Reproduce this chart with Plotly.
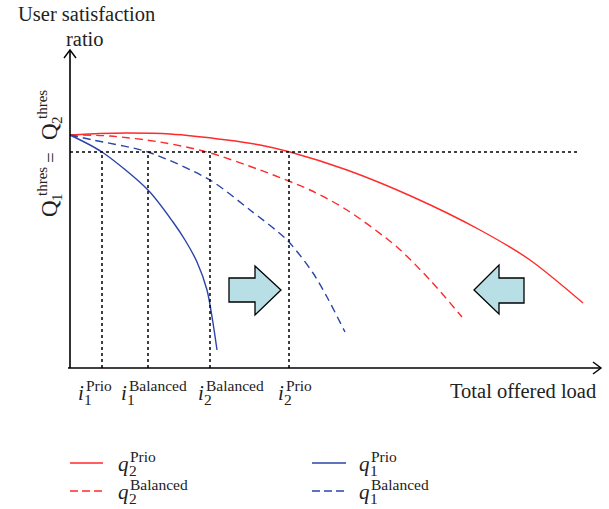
import plotly.graph_objects as go

# ---- data (arbitrary load / ratio units; origin at the axes crossing) ----
red_prio_x = [0, 30, 57, 100, 157, 190, 220, 277, 343, 410, 460, 513]
red_prio_y = [233, 234.5, 235, 234, 228, 223, 216, 198, 171, 138, 108, 65]

red_bal_x = [0, 40, 90, 137, 190, 240, 277, 327, 360, 392]
red_bal_y = [233, 232, 226, 216, 198, 178, 158, 121, 88, 51]

blue_bal_x = [0, 23, 78, 140, 180, 217, 243, 257, 275]
blue_bal_y = [233, 228, 216, 188, 158, 128, 95, 71, 36]

blue_prio_x = [0, 32, 78, 103, 115, 127, 137, 143, 147]
blue_prio_y = [233, 216, 178, 146, 128, 106, 78, 45, 18]

threshold = 216
threshold_end = 510
i_values = [32, 78, 140, 219]

# ---- geometry ----
W, H = 609, 509
OX, OY = 70, 368           # pixel position of the origin
X_END, Y_END = 530, 318    # axis lengths (data units)

RED = "#ff2a2a"
BLUE = "#2a44a8"
FONT = "Liberation Serif"
TXT = "#222222"


def dx(px):
    return px - OX


def dy(py):
    return OY - py


fig = go.Figure()
for xs, ys, col, dash in [
    (red_prio_x, red_prio_y, RED, "solid"),
    (red_bal_x, red_bal_y, RED, "8px,5px"),
    (blue_bal_x, blue_bal_y, BLUE, "8px,5px"),
    (blue_prio_x, blue_prio_y, BLUE, "solid"),
]:
    fig.add_trace(go.Scatter(x=xs, y=ys, mode="lines",
                             line=dict(color=col, width=1.4, dash=dash, shape="spline", smoothing=0.8),
                             showlegend=False, hoverinfo="skip"))

shapes = []
# threshold dotted lines
shapes.append(dict(type="line", x0=0, x1=threshold_end, y0=threshold, y1=threshold,
                   line=dict(color="black", width=1.5, dash="dot")))
for iv in i_values:
    shapes.append(dict(type="line", x0=iv, x1=iv, y0=0, y1=threshold,
                       line=dict(color="black", width=1.5, dash="dot")))
# axes
shapes.append(dict(type="line", x0=-2, x1=X_END, y0=0, y1=0,
                   line=dict(color="black", width=1.6)))
shapes.append(dict(type="line", x0=0, x1=0, y0=0, y1=Y_END,
                   line=dict(color="black", width=1.6)))
# arrow chevrons
shapes.append(dict(type="path",
                   path=f"M {dx(64)},{dy(58)} L {dx(70)},{dy(50)} L {dx(76)},{dy(58)}",
                   line=dict(color="black", width=1.4)))
shapes.append(dict(type="path",
                   path=f"M {dx(593)},{dy(362)} L {dx(601)},{dy(368)} L {dx(593)},{dy(374)}",
                   line=dict(color="black", width=1.4)))


def poly(pts):
    return "M " + " L ".join(f"{dx(a)},{dy(b)}" for a, b in pts) + " Z"


shapes.append(dict(type="path",
                   path=poly([(229, 278), (255, 278), (255, 266), (281, 290), (255, 315), (255, 302), (229, 302)]),
                   fillcolor="#b8dfe5", line=dict(color="black", width=1.3)))
shapes.append(dict(type="path",
                   path=poly([(474, 290), (499, 265), (499, 278), (524, 278), (524, 303), (499, 303), (499, 314)]),
                   fillcolor="#b8dfe5", line=dict(color="black", width=1.3)))

# legend samples
for (x0, x1, y, col, dash) in [
    (70, 103, 463, RED, "solid"),
    (70, 103, 491, RED, "8px,4px"),
    (312, 346, 463, BLUE, "solid"),
    (312, 346, 491, BLUE, "8px,4px"),
]:
    shapes.append(dict(type="line", x0=dx(x0), x1=dx(x1), y0=dy(y), y1=dy(y),
                       line=dict(color=col, width=1.4, dash=dash)))

for s in shapes:
    s.setdefault("xref", "x")
    s.setdefault("yref", "y")

annotations = []


def text(px, py, s, size, xanchor="center", angle=0, italic=False):
    if italic:
        s = f"<i>{s}</i>"
    annotations.append(dict(x=dx(px), y=dy(py), xref="x", yref="y",
                            text=s, showarrow=False, xanchor=xanchor, yanchor="middle",
                            textangle=angle, font=dict(family=FONT, size=size, color=TXT)))


def stacked(px, py, base, sub, sup, size=21, small=15.5, sub_dx=6, sup_dx=8):
    text(px, py, base, size, xanchor="left", italic=True)
    text(px + sub_dx, py + 6.5, sub, small, xanchor="left")
    text(px + sup_dx, py - 8, sup, small, xanchor="left")


text(86, 14, "User satisfaction", 20.5)
text(85, 39, "ratio", 20.5)
text(523, 391, "Total offered load", 20.5)

stacked(76, 393, "i", "1", "Prio")
stacked(119, 393, "i", "1", "Balanced")
stacked(196, 393, "i", "2", "Balanced")
stacked(276, 393, "i", "2", "Prio")

stacked(116, 464, "q", "2", "Prio", sub_dx=11, sup_dx=12)
stacked(116, 492, "q", "2", "Balanced", sub_dx=11, sup_dx=12)
stacked(357, 464, "q", "1", "Prio", sub_dx=11, sup_dx=12)
stacked(357, 492, "q", "1", "Balanced", sub_dx=11, sup_dx=12)

# rotated y label: Q1^thres = Q2^thres
for (qy, sub) in [(209, "1"), (132, "2")]:
    text(49, qy, "Q", 23, angle=-90)
    text(57, qy - 12, sub, 15, angle=-90)
    text(42, qy - 27, "thres", 15, angle=-90)
text(50, 158, "=", 19, angle=-90)

fig.update_layout(
    width=W, height=H,
    margin=dict(l=0, r=0, t=0, b=0, pad=0),
    paper_bgcolor="white", plot_bgcolor="white",
    xaxis=dict(range=[-OX, W - OX], visible=False, fixedrange=True),
    yaxis=dict(range=[OY - H, OY], visible=False, fixedrange=True),
    shapes=shapes, annotations=annotations,
    showlegend=False,
)
fig.write_html("out.html")
